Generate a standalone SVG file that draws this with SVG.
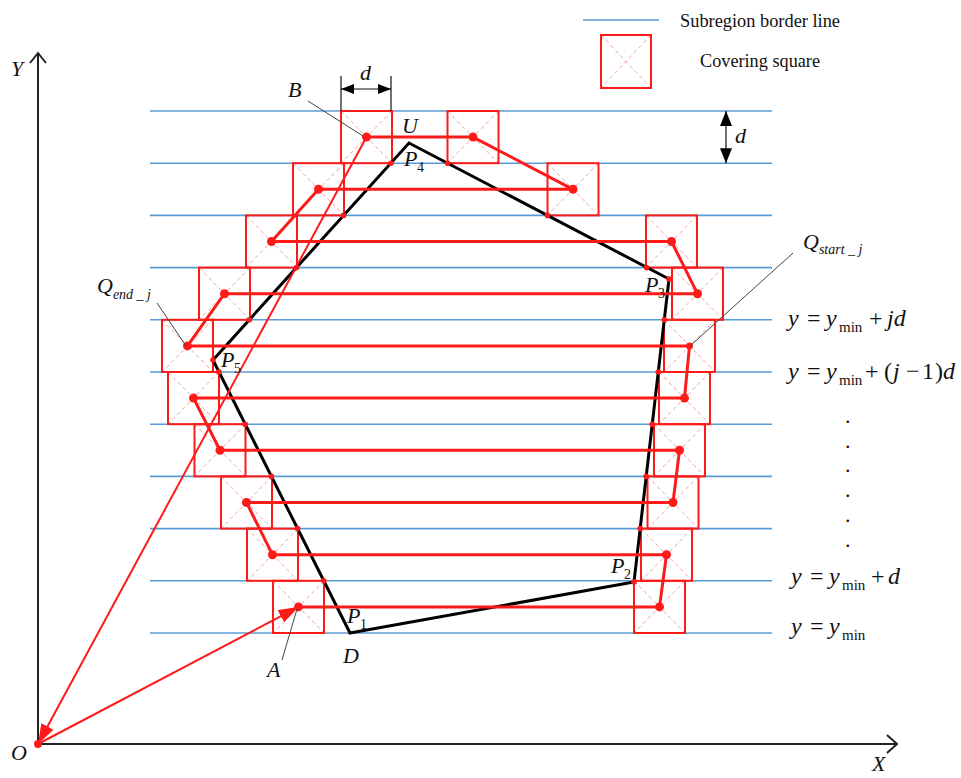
<svg xmlns="http://www.w3.org/2000/svg" width="961" height="778" viewBox="0 0 961 778">
<defs>
<style>
.sub{stroke:#5b9bd5;stroke-width:1.6;fill:none}
.sqb{fill:none;stroke:#ff1a1a;stroke-width:2}
.sqd{stroke:#f7a3a3;stroke-width:1;stroke-dasharray:4 3;fill:none}
.poly{fill:none;stroke:#000;stroke-width:3;stroke-linejoin:miter}
.scan{fill:none;stroke:#ff1a1a;stroke-width:3;stroke-linejoin:round}
.vec{stroke:#ff1a1a;stroke-width:2;fill:none}
.dot{fill:#ff1a1a}
.ax{stroke:#222;stroke-width:2;fill:none}
.lead{stroke:#444;stroke-width:1;fill:none}
.dim{stroke:#111;stroke-width:1.2;fill:none}
text{font-family:"Liberation Serif","Times New Roman",serif;fill:#111}
.it{font-style:italic;font-size:22px}
.m{font-size:22px}
.sb{font-size:14px}
.lg{font-size:18px}
.ei{font-style:italic;font-size:24px}
.em{font-size:24px}
.es{font-size:15px}
</style>
<g id="sq">
<path class="sqd" d="M0,0L51,52.2M51,0L0,52.2"/>
<rect class="sqb" x="0" y="0" width="51" height="52.2"/>
</g>
<marker id="ah" markerUnits="userSpaceOnUse" markerWidth="20" markerHeight="14" refX="20" refY="7" orient="auto"><path d="M0,0L20,7L0,14Z" fill="#ff1a1a"/></marker>
<marker id="da" markerUnits="userSpaceOnUse" markerWidth="13" markerHeight="10" refX="13" refY="5" orient="auto-start-reverse"><path d="M0,0L13,5L0,10Z" fill="#000"/></marker>
<marker id="db" markerUnits="userSpaceOnUse" markerWidth="15" markerHeight="12" refX="15" refY="6" orient="auto-start-reverse"><path d="M0,0L15,6L0,12Z" fill="#000"/></marker>
</defs>
<rect width="961" height="778" fill="#fff"/>

<!-- legend -->
<g id="legend">
<line class="sub" x1="583" y1="20" x2="659" y2="20"/>
<text class="lg" x="680" y="27" textLength="160" lengthAdjust="spacingAndGlyphs">Subregion border line</text>
<path class="sqd" d="M601,35L651,88M651,35L601,88"/>
<rect class="sqb" x="601" y="35" width="50" height="53"/>
<text class="lg" x="700" y="67" textLength="120" lengthAdjust="spacingAndGlyphs">Covering square</text>
</g>

<!-- axes -->
<g id="axes">
<line class="ax" x1="38" y1="744" x2="38" y2="54"/>
<path class="ax" d="M30,63L38,53L46,63"/>
<line class="ax" x1="38" y1="744" x2="896" y2="744"/>
<path class="ax" d="M887,735L897,744L887,753"/>
<text class="it" x="11" y="76">Y</text>
<text class="it" x="872" y="771">X</text>
<text class="it" x="11" y="760">O</text>
</g>

<!-- subregion border lines -->
<g id="subregion-lines">
<line class="sub" x1="150" y1="111" x2="772" y2="111"/>
<line class="sub" x1="150" y1="163.2" x2="772" y2="163.2"/>
<line class="sub" x1="150" y1="215.4" x2="772" y2="215.4"/>
<line class="sub" x1="150" y1="267.6" x2="772" y2="267.6"/>
<line class="sub" x1="150" y1="319.8" x2="772" y2="319.8"/>
<line class="sub" x1="150" y1="372" x2="772" y2="372"/>
<line class="sub" x1="150" y1="424.2" x2="772" y2="424.2"/>
<line class="sub" x1="150" y1="476.4" x2="772" y2="476.4"/>
<line class="sub" x1="150" y1="528.6" x2="772" y2="528.6"/>
<line class="sub" x1="150" y1="580.8" x2="772" y2="580.8"/>
<line class="sub" x1="150" y1="633" x2="772" y2="633"/>
</g>

<!-- covering squares -->
<g id="squares">
<g id="sq-L10"><use href="#sq" x="341" y="111"/></g>
<g id="sq-L9"><use href="#sq" x="293" y="163.2"/></g>
<g id="sq-L8"><use href="#sq" x="246" y="215.4"/></g>
<g id="sq-L7"><use href="#sq" x="199" y="267.6"/></g>
<g id="sq-L6"><use href="#sq" x="162" y="319.8"/></g>
<g id="sq-L5"><use href="#sq" x="168" y="372"/></g>
<g id="sq-L4"><use href="#sq" x="194.5" y="424.2"/></g>
<g id="sq-L3"><use href="#sq" x="221" y="476.4"/></g>
<g id="sq-L2"><use href="#sq" x="247" y="528.6"/></g>
<g id="sq-L1"><use href="#sq" x="273" y="580.8"/></g>
<g id="sq-R10"><use href="#sq" x="447.5" y="111"/></g>
<g id="sq-R9"><use href="#sq" x="547.5" y="163.2"/></g>
<g id="sq-R8"><use href="#sq" x="646" y="215.4"/></g>
<g id="sq-R7"><use href="#sq" x="672" y="267.6"/></g>
<g id="sq-R6"><use href="#sq" x="664" y="319.8"/></g>
<g id="sq-R5"><use href="#sq" x="659" y="372"/></g>
<g id="sq-R4"><use href="#sq" x="654" y="424.2"/></g>
<g id="sq-R3"><use href="#sq" x="647.5" y="476.4"/></g>
<g id="sq-R2"><use href="#sq" x="641" y="528.6"/></g>
<g id="sq-R1"><use href="#sq" x="634" y="580.8"/></g>
</g>

<!-- polygon -->
<g id="polygon">
<polygon class="poly" points="350,633 634,582 669,279 409,143 213,360"/>
<g class="dot">
<circle cx="390.8" cy="163.2" r="2.8"/><circle cx="343.6" cy="215.4" r="2.8"/><circle cx="296.5" cy="267.6" r="2.8"/><circle cx="249.3" cy="319.8" r="2.8"/>
<circle cx="213" cy="360" r="2.8"/><circle cx="219" cy="372" r="2.8"/><circle cx="245.2" cy="424.2" r="2.8"/><circle cx="271.4" cy="476.4" r="2.8"/><circle cx="297.6" cy="528.6" r="2.8"/><circle cx="323.8" cy="580.8" r="2.8"/>
<circle cx="447.6" cy="163.2" r="2.8"/><circle cx="547.4" cy="215.4" r="2.8"/><circle cx="646.5" cy="267.6" r="2.8"/><circle cx="669" cy="279" r="2.8"/>
<circle cx="664.3" cy="319.8" r="2.8"/><circle cx="658.3" cy="372" r="2.8"/><circle cx="652.2" cy="424.2" r="2.8"/><circle cx="646.2" cy="476.4" r="2.8"/><circle cx="640.2" cy="528.6" r="2.8"/><circle cx="634" cy="582" r="2.8"/>
</g>
</g>

<!-- connectors -->
<g id="connectors">
<polyline class="scan" points="298.5,606.9 659.5,606.9 666.5,554.7 272.5,554.7 246.5,502.5 673,502.5 679.5,450.3 220,450.3 193.5,398.1 684.5,398.1 689.5,345.9 187.5,345.9 224.5,293.7 697.5,293.7 671.5,241.5 271.5,241.5 318.5,189.3 573,189.3 473,137.1 366.5,137.1"/>
<g class="dot">
<circle cx="298.5" cy="606.9" r="4.5"/><circle cx="659.5" cy="606.9" r="4.5"/><circle cx="666.5" cy="554.7" r="4.5"/><circle cx="272.5" cy="554.7" r="4.5"/>
<circle cx="246.5" cy="502.5" r="4.5"/><circle cx="673" cy="502.5" r="4.5"/><circle cx="679.5" cy="450.3" r="4.5"/><circle cx="220" cy="450.3" r="4.5"/>
<circle cx="193.5" cy="398.1" r="4.5"/><circle cx="684.5" cy="398.1" r="4.5"/><circle cx="689.5" cy="345.9" r="3.5"/><circle cx="187.5" cy="345.9" r="4.5"/>
<circle cx="224.5" cy="293.7" r="4.5"/><circle cx="697.5" cy="293.7" r="4.5"/><circle cx="671.5" cy="241.5" r="4.5"/><circle cx="271.5" cy="241.5" r="4.5"/>
<circle cx="318.5" cy="189.3" r="4.5"/><circle cx="573" cy="189.3" r="4.5"/><circle cx="473" cy="137.1" r="4.5"/><circle cx="366.5" cy="137.1" r="4.5"/>
<circle cx="38" cy="744" r="4"/>
</g>
<line class="vec" x1="38" y1="744" x2="298.5" y2="606.9" marker-end="url(#ah)"/>
<line class="vec" x1="366.5" y1="137.1" x2="38" y2="744" marker-end="url(#ah)"/>
</g>

<!-- dimensions -->
<g id="dimensions">
<line class="dim" x1="341" y1="76" x2="341" y2="111"/>
<line class="dim" x1="391" y1="76" x2="391" y2="111"/>
<line class="dim" x1="341" y1="89" x2="391" y2="89" marker-start="url(#da)" marker-end="url(#da)"/>
<text class="it" x="360" y="80">d</text>
<line class="dim" x1="726" y1="111" x2="726" y2="163.2" marker-start="url(#db)" marker-end="url(#db)"/>
<text class="it" x="735" y="143">d</text>
</g>

<!-- labels -->
<g id="labels">
<line class="lead" x1="308" y1="101" x2="363" y2="136"/>
<text class="it" x="288" y="97">B</text>
<text class="it" x="402" y="133">U</text>
<text class="it" x="404" y="166">P<tspan class="sb" font-style="normal" x="417" y="172">4</tspan></text>
<text class="it" x="645" y="292">P<tspan class="sb" font-style="normal" x="658" y="298">3</tspan></text>
<text class="it" x="221" y="367">P<tspan class="sb" font-style="normal" x="234" y="373">5</tspan></text>
<text class="it" x="611" y="573">P<tspan class="sb" font-style="normal" x="624" y="579">2</tspan></text>
<text class="it" x="347" y="623">P<tspan class="sb" font-style="normal" x="360" y="629">1</tspan></text>
<text class="it" x="343" y="663">D</text>
<line class="lead" x1="282" y1="660" x2="297" y2="609"/>
<text class="it" x="267" y="677">A</text>
<line class="lead" x1="157" y1="303" x2="186" y2="346"/>
<text class="it" x="97" y="293">Q<tspan class="sb" dy="6">end _ j</tspan></text>
<line class="lead" x1="793" y1="253" x2="690" y2="346"/>
<text class="it" x="803" y="249">Q<tspan class="sb" dy="5">start _ j</tspan></text>
</g>

<!-- equations -->
<g id="equations">
<text y="326"><tspan class="ei" x="788">y</tspan><tspan class="em" x="807">=</tspan><tspan class="ei" x="826">y</tspan><tspan class="es" x="839" y="332">min</tspan><tspan class="em" x="869" y="326">+</tspan><tspan class="ei" x="887">jd</tspan></text>
<text y="379"><tspan class="ei" x="788">y</tspan><tspan class="em" x="807">=</tspan><tspan class="ei" x="826">y</tspan><tspan class="es" x="839" y="385">min</tspan><tspan class="em" x="865" y="379">+</tspan><tspan class="em" x="884">(</tspan><tspan class="ei" x="893">j</tspan><tspan class="em" x="906">−</tspan><tspan class="em" x="922">1</tspan><tspan class="em" x="935">)</tspan><tspan class="ei" x="943">d</tspan></text>
<text class="m" x="845" y="423">.</text>
<text class="m" x="845" y="448">.</text>
<text class="m" x="845" y="472">.</text>
<text class="m" x="845" y="497">.</text>
<text class="m" x="845" y="522">.</text>
<text class="m" x="845" y="547">.</text>
<text y="584"><tspan class="ei" x="791">y</tspan><tspan class="em" x="810">=</tspan><tspan class="ei" x="829">y</tspan><tspan class="es" x="842" y="590">min</tspan><tspan class="em" x="871" y="584">+</tspan><tspan class="ei" x="888">d</tspan></text>
<text y="634"><tspan class="ei" x="791">y</tspan><tspan class="em" x="810">=</tspan><tspan class="ei" x="829">y</tspan><tspan class="es" x="842" y="640">min</tspan></text>
</g>
</svg>
